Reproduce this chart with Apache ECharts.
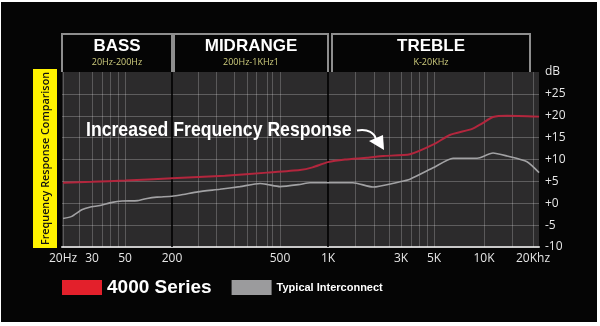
<!DOCTYPE html>
<html>
<head>
<meta charset="utf-8">
<script src="https://cdn.jsdelivr.net/npm/echarts@6/dist/echarts.min.js"></script>
<style>
html,body{margin:0;padding:0;background:#ffffff;width:600px;height:326px;overflow:hidden;}
#bg{position:absolute;left:1px;top:2px;width:596px;height:320px;background:#050505;}
#main{position:absolute;left:0;top:0;width:600px;height:326px;}
</style>
</head>
<body>
<div id="bg"></div>
<div id="main"></div>
<script>
// ---- Data ----
const tickFreqs = [20, 30, 50, 200, 500, 1000, 3000, 5000, 10000, 20000];
const tickLabels = ['20Hz', '30', '50', '200', '500', '1K', '3K', '5K', '10K', '20Khz'];
// scale anchors (stylised, non-log frequency axis): axis units for each tick frequency
const tickAxisUnits = [1, 30, 63, 110, 218, 266, 339, 372, 422, 471];

const redFreq = [20, 30, 50, 200, 313, 448, 667, 800, 1000, 1290, 1800, 2290, 3450, 5000, 6220, 8500, 9600, 11360, 13850, 21800];
const redDb   = [4.7, 4.9, 5.2, 5.7, 6.3, 7.0, 7.6, 8.2, 9.4, 10.0, 10.4, 10.8, 11.2, 13.5, 15.6, 17.0, 18.1, 19.7, 20.0, 19.8];

const greyFreq = [20, 22.6, 26, 29, 34, 41, 48, 73, 96, 128, 200, 220, 249, 300, 356, 422, 448, 500, 667, 771, 1456, 1968, 2950, 3450, 4930, 6510, 9080, 9450, 11360, 13850, 18370, 21800];
const greyDb   = [-3.5, -3.0, -1.5, -0.9, -0.5, 0.2, 0.5, 0.6, 1.1, 1.4, 1.6, 2.0, 2.6, 3.2, 3.8, 4.5, 4.3, 3.8, 4.3, 4.7, 4.7, 3.7, 4.9, 5.5, 8.1, 10.3, 10.3, 10.4, 11.5, 10.8, 9.5, 7.0];

const gridFreqs = [20, 25, 30, 35, 40, 45, 50, 250, 290, 340, 380, 410, 450, 470, 500, 1500, 2000, 2500, 3000, 3500, 4000, 4500, 5000, 10000, 15000, 20000];
const majorFreqs = [200, 1000];

const dbTicks = [-10, -5, 0, 5, 10, 15, 20, 25];
const bands = [
  {name: 'BASS', range: '20Hz-200Hz', from: 20, to: 200},
  {name: 'MIDRANGE', range: '200Hz-1KHz1', from: 200, to: 1000},
  {name: 'TREBLE', range: 'K-20KHz', from: 1000, to: 20000}
];
const seriesNames = ['4000 Series', 'Typical Interconnect'];

// ---- frequency -> axis unit (piecewise log between anchors) ----
function fpos(f) {
  const n = tickFreqs.length;
  let i = 0;
  while (i < n - 2 && f > tickFreqs[i + 1]) i++;
  const f0 = tickFreqs[i], f1 = tickFreqs[i + 1];
  const p0 = tickAxisUnits[i], p1 = tickAxisUnits[i + 1];
  const t = Math.log(f / f0) / Math.log(f1 / f0);
  return p0 + t * (p1 - p0);
}

const redData = redFreq.map((f, i) => [fpos(f), redDb[i]]);
const greyData = greyFreq.map((f, i) => [fpos(f), greyDb[i]]);
const tickPosList = tickFreqs.map(fpos);

const gridLineData = gridFreqs.map(f => ({xAxis: fpos(f), lineStyle: {color: 'rgba(255,255,255,0.22)', width: 1, type: 'solid'}}))
  .concat(majorFreqs.map(f => ({xAxis: fpos(f), lineStyle: {color: '#000000', width: 1.6, type: 'solid'}})));

const chart = echarts.init(document.getElementById('main'), null, {renderer: 'canvas'});

const option = {
  animation: false,
  backgroundColor: 'transparent',
  grid: {
    left: 62, right: 61, top: 72, bottom: 79,
    show: true, backgroundColor: '#2c2b2c', borderWidth: 0
  },
  xAxis: {
    type: 'value',
    min: 0, max: 477,
    axisLine: {show: true, onZero: false, lineStyle: {color: '#c8c8c8', width: 2}},
    axisTick: {show: false},
    splitLine: {show: false},
    axisLabel: {
      customValues: tickPosList,
      color: '#e6e6e6', fontSize: 12, fontFamily: 'Open Sans, sans-serif', margin: 6,
      formatter: function (v) {
        let best = 0, bd = 1e9;
        tickPosList.forEach((p, i) => { const d = Math.abs(p - v); if (d < bd) { bd = d; best = i; } });
        return tickLabels[best];
      }
    }
  },
  yAxis: {
    type: 'value',
    position: 'right',
    min: -10, max: 30, interval: 5,
    axisLine: {show: false},
    axisTick: {show: false},
    splitLine: {show: true, showMinLine: false, showMaxLine: false, lineStyle: {color: 'rgba(255,255,255,0.24)', width: 1}},
    axisLabel: {
      color: '#e6e6e6', fontSize: 12, fontFamily: 'Open Sans, sans-serif', margin: 6,
      formatter: function (v) {
        if (v === 30) return 'dB';
        if (dbTicks.indexOf(v) < 0) return '';
        return v >= 0 ? '+' + v : String(v);
      }
    }
  },
  legend: {
    left: 57, top: 273,
    itemWidth: 40, itemHeight: 15, itemGap: 20,
    icon: 'rect',
    selectedMode: false,
    data: [
      {name: seriesNames[0], itemStyle: {color: '#e3202b'}, textStyle: {color: '#ffffff', fontSize: 19, fontWeight: 'bold', fontFamily: 'Liberation Sans, Arial, sans-serif'}},
      {name: seriesNames[1], itemStyle: {color: '#9b9b9d'}, textStyle: {color: '#ffffff', fontSize: 11, fontWeight: 'bold', fontFamily: 'Liberation Sans, Arial, sans-serif'}}
    ]
  },
  series: [
    {
      name: seriesNames[1], type: 'line', data: greyData, showSymbol: false, smooth: 0.2,
      lineStyle: {color: '#a2a2a4', width: 1.6}, itemStyle: {color: '#9b9b9d'}, z: 3,
      markLine: {silent: true, symbol: ['none', 'none'], label: {show: false}, animation: false, data: gridLineData, z: 1}
    },
    {
      name: seriesNames[0], type: 'line', data: redData, showSymbol: false, smooth: 0.2,
      lineStyle: {color: '#b3263d', width: 2}, itemStyle: {color: '#e3202b'}, z: 4
    }
  ]
};
chart.setOption(option);

// ---- header boxes & decorations ----
const gTop = 34, gBottom = 72;
const graphics = [];
bands.forEach((b, i) => {
  let x0 = chart.convertToPixel({xAxisIndex: 0}, fpos(b.from));
  let x1 = chart.convertToPixel({xAxisIndex: 0}, fpos(b.to));
  if (i === 0) x0 = 62;
  if (i > 0) x0 += 2 + (i === 2 ? 2 : 0);
  if (i === 2) x1 -= 3;
  graphics.push({
    type: 'polyline', silent: true,
    shape: {points: [[x0, gBottom], [x0, gTop], [x1, gTop], [x1, gBottom]]},
    style: {stroke: '#8e8e8e', lineWidth: 2, fill: null}
  });
  const cx = (x0 + x1) / 2;
  graphics.push({
    type: 'text', silent: true, x: cx, y: 46,
    style: {text: b.name, fill: '#ffffff', font: 'bold 17px "Liberation Sans", Arial, sans-serif', textAlign: 'center', textVerticalAlign: 'middle'}
  });
  graphics.push({
    type: 'text', silent: true, x: cx, y: 62.5,
    style: {text: b.range, fill: '#cfcd7e', font: '9px "Open Sans", sans-serif', textAlign: 'center', textVerticalAlign: 'middle'}
  });
});

// yellow vertical title
graphics.push({type: 'rect', silent: true, shape: {x: 33, y: 69, width: 24, height: 179}, style: {fill: '#fff200'}});
graphics.push({
  type: 'text', silent: true, x: 45.5, y: 158.5, rotation: Math.PI / 2,
  style: {text: 'Frequency Response Comparison', fill: '#111111', font: '600 10.8px "Open Sans", sans-serif', textAlign: 'center', textVerticalAlign: 'middle'}
});

// annotation (condensed bold)
graphics.push({
  type: 'text', silent: true, x: 86, y: 130, z: 10, scaleX: 0.84, scaleY: 1,
  style: {text: 'Increased Frequency Response', fill: '#ffffff', font: 'bold 21px "Liberation Sans", Arial, sans-serif', textAlign: 'left', textVerticalAlign: 'middle'}
});
graphics.push({
  type: 'bezierCurve', silent: true, z: 10,
  shape: {x1: 357, y1: 130.5, cpx1: 368, cpy1: 128.5, cpx2: 375, cpy2: 133, x2: 376, y2: 140},
  style: {stroke: '#ffffff', lineWidth: 2, fill: null}
});
graphics.push({
  type: 'polygon', silent: true, z: 10,
  shape: {points: [[369, 141], [383, 135], [384, 150]]},
  style: {fill: '#ffffff'}
});

chart.setOption({graphic: graphics});
</script>
</body>
</html>
